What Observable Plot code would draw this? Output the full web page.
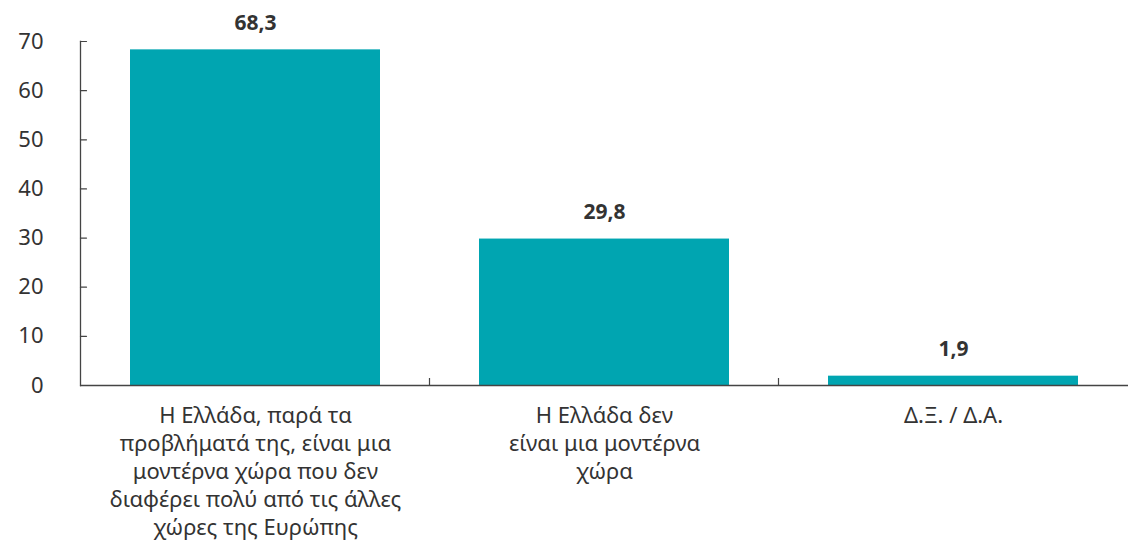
<!DOCTYPE html>
<html>
<head>
<meta charset="utf-8">
<script src="https://cdn.jsdelivr.net/npm/d3@7"></script>
<script src="https://cdn.jsdelivr.net/npm/@observablehq/plot@0.6"></script>
<style>
  html, body { margin: 0; padding: 0; background: #fff; overflow: hidden; }
</style>
</head>
<body>
<div id="chart"></div>
<script>
const categories = [
  "Η Ελλάδα, παρά τα προβλήματά της, είναι μια μοντέρνα χώρα που δεν διαφέρει πολύ από τις άλλες χώρες της Ευρώπης",
  "Η Ελλάδα δεν είναι μια μοντέρνα χώρα",
  "Δ.Ξ. / Δ.Α."
];
const tickLabels = [
  "Η Ελλάδα, παρά τα\nπροβλήματά της, είναι μια\nμοντέρνα χώρα που δεν\nδιαφέρει πολύ από τις άλλες\nχώρες της Ευρώπης",
  "Η Ελλάδα δεν\nείναι μια μοντέρνα\nχώρα",
  "Δ.Ξ. / Δ.Α."
];
const values = [68.3, 29.8, 1.9];
const valueLabels = ["68,3", "29,8", "1,9"];
const yTicks = [0, 10, 20, 30, 40, 50, 60, 70];

const data = categories.map((c, i) => ({cat: c, value: values[i], label: valueLabels[i]}));

const axisColor = "#444";
const tickShape = {draw(context, l) { context.moveTo(0, 0); context.lineTo(0, -l); }};

const plot = Plot.plot({
  width: 1128,
  height: 547,
  marginLeft: 80,
  marginRight: 0,
  marginTop: 41,
  marginBottom: 162,
  style: {fontFamily: "'Noto Sans', sans-serif", color: "#333", background: "white", overflow: "visible"},
  x: {domain: categories, paddingInner: 0.285, paddingOuter: 0.1425, align: 0.5},
  y: {domain: [0, 70]},
  marks: [
    Plot.barY(data, {x: "cat", y: "value", fill: "#00A5B1"}),
    Plot.frame({anchor: "left", stroke: axisColor, strokeWidth: 1.3}),
    Plot.ruleY([0], {stroke: axisColor, strokeWidth: 1.3}),
    Plot.axisY({ticks: yTicks, tickSize: 0, tickPadding: 37, fontSize: 22, label: null, fill: "#333"}),
    Plot.vector(yTicks, {y: d => d, frameAnchor: "left", length: 6, rotate: 90, anchor: "start", shape: tickShape, stroke: axisColor, strokeWidth: 1.2}),
    Plot.axisX({tickSize: 0, tickPadding: 18, fontSize: 22, lineHeight: 1.27, lineAnchor: "top", label: null, fill: "#333",
      tickFormat: d => tickLabels[categories.indexOf(d)]}),
    Plot.text(data, {x: "cat", y: "value", text: "label", dy: -27, fontWeight: "bold", fontSize: 21, fill: "#333"})
  ]
});

document.getElementById("chart").append(plot);

// boundary ticks between categories, positioned from Plot's own scales
const xs = plot.scale("x");
const ys = plot.scale("y");
const y0 = ys.apply(0);
const svg = d3.select(plot);
for (let i = 0; i < categories.length - 1; i++) {
  const pos = xs.apply(categories[i]) + xs.bandwidth + (xs.step - xs.bandwidth) / 2;
  svg.append("line")
    .attr("x1", pos).attr("x2", pos)
    .attr("y1", y0 - 7).attr("y2", y0)
    .attr("stroke", axisColor).attr("stroke-width", 1.2);
}
</script>
</body>
</html>
